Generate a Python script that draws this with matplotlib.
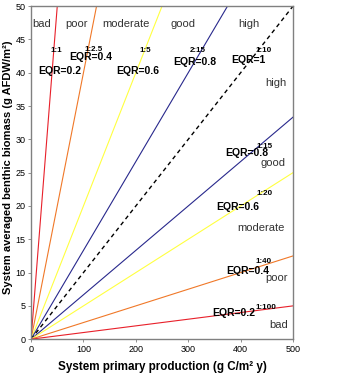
import numpy
import matplotlib
matplotlib.use("Agg")
import matplotlib.pyplot as plt

plt.rcParams['font.family'] = ['Liberation Sans', 'DejaVu Sans']

# ratio lines (biomass : production)
ratio_labels = ["1:1", "1:2.5", "1:5", "2:15", "1:10", "1:15", "1:20", "1:40", "1:100"]
slopes = [1.0, 1 / 2.5, 1 / 5.0, 2 / 15.0, 1 / 10.0, 1 / 15.0, 1 / 20.0, 1 / 40.0, 1 / 100.0]
eqr_labels = ["EQR=0.2", "EQR=0.4", "EQR=0.6", "EQR=0.8", "EQR=1",
              "EQR=0.8", "EQR=0.6", "EQR=0.4", "EQR=0.2"]
line_colors = ["#e8202a", "#f07828", "#ffff40", "#28288c", "black",
               "#28288c", "#ffff40", "#f07828", "#e8202a"]

# label positions (data coords)
ratio_pos = [(48, 43.4), (119, 43.5), (219, 43.4), (319, 43.4), (443, 43.4),
             (445, 29.0), (445, 21.8), (443, 11.6), (448, 4.8)]
eqr_pos = [(54, 40.2), (113, 42.3), (204, 40.2), (313, 41.6), (414, 41.9),
           (412, 27.9), (395, 19.8), (414, 10.2), (387, 3.9)]

# status class names
class_names = ["bad", "poor", "moderate", "good", "high",
               "high", "good", "moderate", "poor", "bad"]
class_pos = [(20, 47.3), (86, 47.3), (181, 47.3), (290, 47.3), (416, 47.3),
             (467, 38.4), (462, 26.4), (439, 16.7), (469, 9.2), (472, 2.1)]

fig = plt.figure(figsize=(3.53, 3.85), dpi=100)
ax = fig.add_axes([0.088, 0.119, 0.742, 0.865])

xs = numpy.array([0, 500])
for k in range(len(slopes)):
    if k == 4:
        ax.plot(xs, xs * slopes[k], "--", color=line_colors[k], lw=1.0, dashes=(3, 2.5))
    else:
        ax.plot(xs, xs * slopes[k], "-", color=line_colors[k], lw=0.8)

for k in range(len(ratio_labels)):
    ax.text(ratio_pos[k][0], ratio_pos[k][1], ratio_labels[k], fontsize=5.8,
            fontweight='bold', ha='center', va='center')
    ax.text(eqr_pos[k][0], eqr_pos[k][1], eqr_labels[k], fontsize=7.5,
            fontweight='bold', ha='center', va='center')

for k in range(len(class_names)):
    ax.text(class_pos[k][0], class_pos[k][1], class_names[k], fontsize=8,
            color="#333333", ha='center', va='center')

ax.set_xlim(0, 500)
ax.set_ylim(0, 50)
ax.set_xticks([0, 100, 200, 300, 400, 500])
ax.set_yticks(numpy.arange(0, 51, 5))
ax.tick_params(axis='both', labelsize=6.5, length=2, width=0.6, color="#808080", pad=2)

for sp in ax.spines.values():
    sp.set_color("#808080")
    sp.set_linewidth(1.0)

ax.set_xlabel("System primary production (g C/m\u00b2 y)", fontsize=8.4,
              fontweight='bold', va='center')
ax.xaxis.set_label_coords(0.5, -0.084)
ax.set_ylabel("System averaged benthic biomass (g AFDW/m\u00b2)", fontsize=8.0,
              fontweight='bold', va='center')
ax.yaxis.set_label_coords(-0.088, 0.515)

plt.savefig("out.png", dpi=100)
